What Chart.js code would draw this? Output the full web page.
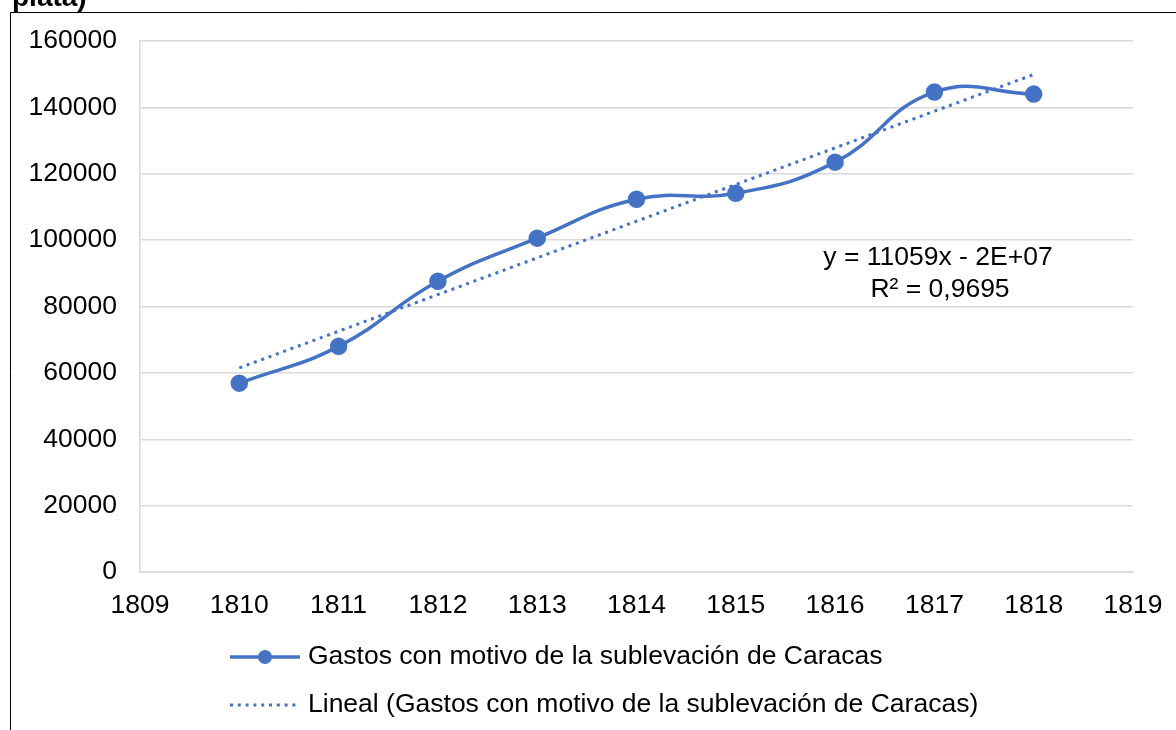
<!DOCTYPE html>
<html>
<head>
<meta charset="utf-8">
<script src="https://cdn.jsdelivr.net/npm/chart.js@4.4.1/dist/chart.umd.min.js"></script>
<style>
  html, body { margin: 0; padding: 0; background: #fff; }
  #wrap { width: 1176px; height: 730px; position: relative; }
</style>
</head>
<body>
<div id="wrap"><canvas id="gastos"></canvas></div>
<script>
// yearly spending (pesos de plata)
const years = [1810, 1811, 1812, 1813, 1814, 1815, 1816, 1817, 1818];
const gastos = [56900, 68000, 87600, 100600, 112300, 114100, 123500, 144600, 144000];

// linear trend, end points
const trendYears = [1810, 1818];
const trendValues = [61500, 149900];

const seriesLabel = 'Gastos con motivo de la sublevación de Caracas';
const trendLabel = 'Lineal (Gastos con motivo de la sublevación de Caracas)';
const equationLines = ['y = 11059x - 2E+07', 'R² = 0,9695'];

const blue = '#4472C4';
const font = '"Liberation Sans", Arial, sans-serif';
const textSize = 26.5;

const extras = {
    id: 'extras',
    afterDraw(chart) {
        const ctx = chart.ctx;
        ctx.save();

        // frame around the chart
        ctx.strokeStyle = '#000';
        ctx.lineWidth = 1;
        ctx.beginPath();
        ctx.moveTo(10.5, 730);
        ctx.lineTo(10.5, 12.5);
        ctx.lineTo(1176, 12.5);
        ctx.stroke();

        // title, mostly off the top
        ctx.fillStyle = '#000';
        ctx.font = 'bold 28px ' + font;
        ctx.textAlign = 'left';
        ctx.textBaseline = 'alphabetic';
        ctx.fillText('plata)', 12, 6);

        // trend equation
        ctx.font = textSize + 'px ' + font;
        ctx.textAlign = 'center';
        ctx.textBaseline = 'middle';
        ctx.fillText(equationLines[0], 938, 258);
        ctx.fillText(equationLines[1], 940, 290);

        // legend
        const x0 = 230, x1 = 300, tx = 308;
        const rows = [657, 705];
        ctx.textAlign = 'left';

        ctx.strokeStyle = blue;
        ctx.lineWidth = 3.5;
        ctx.beginPath();
        ctx.moveTo(x0, rows[0]);
        ctx.lineTo(x1, rows[0]);
        ctx.stroke();
        ctx.fillStyle = blue;
        ctx.beginPath();
        ctx.arc((x0 + x1) / 2, rows[0], 7, 0, Math.PI * 2);
        ctx.fill();

        ctx.lineWidth = 3;
        ctx.setLineDash([3, 4.8]);
        ctx.beginPath();
        ctx.moveTo(x0, rows[1]);
        ctx.lineTo(x1, rows[1]);
        ctx.stroke();
        ctx.setLineDash([]);

        ctx.fillStyle = '#000';
        ctx.fillText(seriesLabel, tx, rows[0]);
        ctx.fillText(trendLabel, tx, rows[1]);

        ctx.restore();
    }
};

const chart = new Chart(
    document.getElementById('gastos'),
    {
        type: 'scatter',
        data: {
            datasets: [
                {
                    label: seriesLabel,
                    data: years.map((y, i) => ({ x: y, y: gastos[i] })),
                    showLine: true,
                    borderColor: blue,
                    backgroundColor: blue,
                    borderWidth: 3.5,
                    pointRadius: 7,
                    pointHoverRadius: 7,
                    tension: 0.45,
                    order: 1
                },
                {
                    label: trendLabel,
                    data: trendYears.map((y, i) => ({ x: y, y: trendValues[i] })),
                    showLine: true,
                    borderColor: blue,
                    borderWidth: 3,
                    borderDash: [3, 4.8],
                    pointRadius: 0,
                    tension: 0,
                    order: 2
                }
            ]
        },
        options: {
            responsive: true,
            maintainAspectRatio: false,
            animation: false,
            layout: { padding: { top: 41, right: 43, left: 0, bottom: 0 } },
            plugins: {
                legend: { display: false },
                tooltip: { enabled: false }
            },
            scales: {
                x: {
                    type: 'linear',
                    min: 1809,
                    max: 1819,
                    afterFit: s => {
                        s.height = 158;
                        s.paddingLeft = 0;
                        s.paddingRight = 0;
                    },
                    ticks: {
                        stepSize: 1,
                        color: '#000',
                        padding: 18,
                        font: { family: font, size: textSize },
                        callback: v => String(v)
                    },
                    grid: { display: false, drawTicks: false },
                    border: { display: true, color: '#d9d9d9', width: 1.5 }
                },
                y: {
                    min: 0,
                    max: 160000,
                    afterFit: s => {
                        s.width = 140;
                        s.paddingTop = 0;
                        s.paddingBottom = 0;
                    },
                    ticks: {
                        stepSize: 20000,
                        color: '#000',
                        padding: 23,
                        font: { family: font, size: textSize },
                        callback: v => String(v)
                    },
                    grid: { color: '#d9d9d9', lineWidth: 1.5, drawTicks: false },
                    border: { display: true, color: '#d9d9d9', width: 1.5 }
                }
            }
        },
        plugins: [extras]
    }
);
</script>
</body>
</html>
